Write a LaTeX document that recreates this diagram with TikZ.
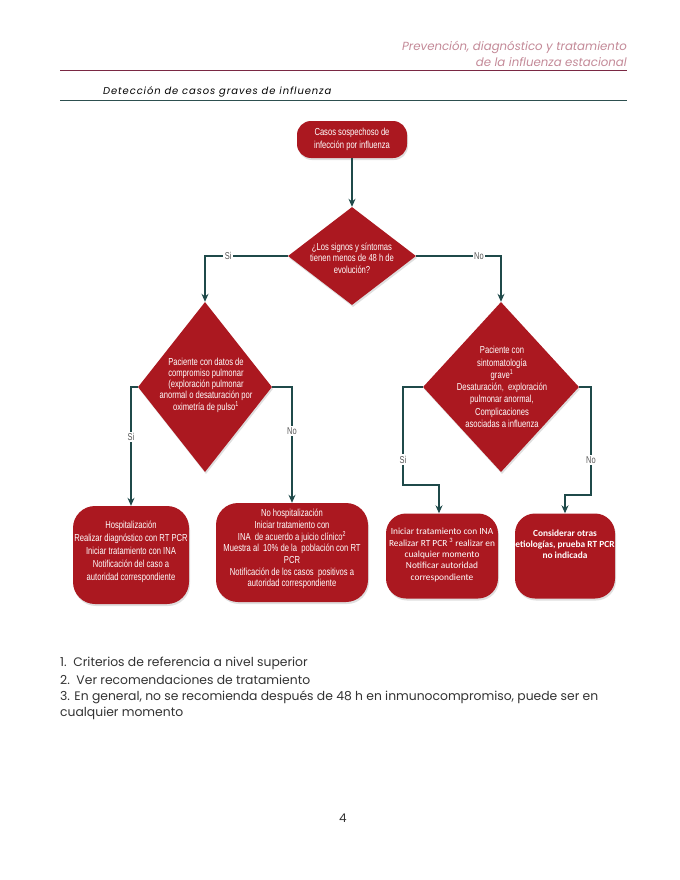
\documentclass[tikz,border=0pt]{standalone}
\usepackage{fontspec}
\setmainfont{Liberation Sans}
\newfontfamily\narrowf[FakeStretch=0.75]{Liberation Sans}
\newfontfamily\calif{Carlito}
\newfontfamily\geof{Poppins}
\usetikzlibrary{shapes.geometric,shadows,arrows.meta,calc}
\definecolor{boxred}{HTML}{AB1820}
\definecolor{arrcol}{HTML}{1F4A4A}
\definecolor{headpink}{HTML}{C48A98}
\definecolor{headline}{HTML}{7A2843}
\definecolor{tealline}{HTML}{2D4F4F}
\definecolor{lbltext}{HTML}{555555}
\definecolor{foottext}{HTML}{333333}
\tikzset{
  redshape/.style={fill=boxred, draw=none, drop shadow={opacity=0.25, shadow xshift=1bp, shadow yshift=-2bp}},
  termbox/.style={redshape, rectangle, rounded corners=22bp, inner sep=0pt},
  startbox/.style={redshape, rectangle, rounded corners=14bp, inner sep=0pt, minimum width=110bp, minimum height=37bp,
     text=white, align=center, font=\narrowf\fontsize{10.2}{12.8}\selectfont},
  decision/.style={redshape, diamond, inner sep=0pt},
  wtext/.style={text=white, align=center, inner sep=0pt, font=\narrowf\fontsize{10.2}{11.7}\selectfont},
  arr/.style={draw=arrcol, line width=1.2bp, -{Stealth[length=8bp,width=7bp]}},
  lbl/.style={fill=white, inner sep=1.5bp, text=lbltext, font=\narrowf\fontsize{10}{11}\selectfont},
  foot/.style={anchor=west, inner sep=0pt, text=foottext, font=\geof\fontsize{12.4}{14}\selectfont},
}
\begin{document}
\begin{tikzpicture}[x=1bp,y=-1bp]
\useasboundingbox[fill=white] (0,0) rectangle (680,880);

% header
\node[anchor=east, inner sep=0pt, text=headpink, font=\geof\itshape\fontsize{11.8}{13}\selectfont] (h1) at (627,47) {Prevención, diagnóstico y tratamiento};
\node[anchor=east, inner sep=0pt, text=headpink, font=\geof\itshape\fontsize{11.8}{13}\selectfont] (h2) at (627,62) {de la influenza estacional};
\draw[headline, line width=1bp] (60,70.5) -- (627,70.5);
\node[anchor=west, inner sep=0pt, font=\geof\itshape\fontsize{10}{11}\selectfont, text=black] (title) at (103,92) {\addfontfeature{LetterSpace=9}Detección de casos graves de influenza};
\draw[tealline, line width=1bp] (60,100.5) -- (627,100.5);

% start
\node[startbox] (start) at (352,139.5) {Casos sospechoso de\\infección por influenza};

% decision 1
\node[decision, minimum width=128bp, minimum height=98bp] (d1) at (352,256) {};
\node[wtext] (d1t) at (352,258) {¿Los signos y síntomas\\tienen menos de 48 h de\\evolución?};

% decision 2
\node[decision, minimum width=134bp, minimum height=170bp] (d2) at (205,387) {};
\node[wtext, font=\narrowf\fontsize{10.2}{11.3}\selectfont] (d2t) at (206,385) {Paciente con datos de\\compromiso pulmonar\\(exploración pulmonar\\anormal o desaturación por\\oximetría de pulso\textsuperscript{1}};

% decision 3
\node[decision, minimum width=156bp, minimum height=170bp] (d3) at (501,387) {};
\node[wtext, font=\narrowf\fontsize{10.2}{12.3}\selectfont] (d3t) at (502,387) {Paciente con\\sintomatología\\grave\textsuperscript{1}\\Desaturación,\ \ exploración\\pulmonar anormal,\\Complicaciones\\asociadas a influenza};

% terminal boxes
\node[termbox, minimum width=116bp, minimum height=98bp] (b1) at (131,555) {};
\node[wtext, font=\narrowf\fontsize{10.2}{13.2}\selectfont] (b1t) at (131,552) {Hospitalización\\Realizar diagnóstico con RT PCR\\Iniciar tratamiento con INA\\Notificación del caso a\\autoridad correspondiente};

\node[termbox, minimum width=152bp, minimum height=99bp] (b2) at (292,552.5) {};
\node[wtext] (b2t) at (292,549) {No hospitalización\\Iniciar tratamiento con\\INA\ \ de acuerdo a juicio clínico\textsuperscript{2}\\Muestra al\ \ 10\% de la\ \ población con RT\\PCR\\Notificación de los casos\ \ positivos a\\autoridad correspondiente};

\node[termbox, minimum width=112bp, minimum height=85bp, rounded corners=20bp] (b3) at (442,556) {};
\node[wtext, font=\calif\fontsize{9.4}{11.5}\selectfont] (b3t) at (442,555) {Iniciar tratamiento con INA\\Realizar RT PCR \textsuperscript{3} realizar en\\cualquier momento\\Notificar autoridad\\correspondiente};

\node[termbox, minimum width=100bp, minimum height=85bp, rounded corners=20bp] (b4) at (565,556) {};
\node[wtext, font=\calif\bfseries\fontsize{9.4}{11.3}\selectfont] (b4t) at (565,544) {Considerar otras\\etiologías, prueba RT PCR\\no indicada};

% connectors
\coordinate (c1) at (403,485);
\coordinate (c2) at (591,495);
\draw[arr] (start.south) -- (d1.north);
\draw[arr] (d1.west) -| node[lbl, pos=0.36] (l1) {Si} (d2.north);
\draw[arr] (d1.east) -| node[lbl, pos=0.37] (l2) {No} (d3.north);
\draw[arr] (d2.west) -| node[lbl, pos=0.71] (l3) {Si} (b1.north);
\draw[arr] (d2.east) -| node[lbl, pos=0.69] (l4) {No} (b2.north);
\draw[arr] (d3.west) -| node[lbl, pos=0.87] (l5) {Si} (c1) -| ($(b3.north)+(-3,0)$);
\draw[arr] (d3.east) -| node[lbl, pos=0.84] (l6) {No} (c2) -| (b4.north);

% footnotes
\node[foot] (f1) at (60,663) {1.\ \ Criterios de referencia a nivel superior};
\node[foot] (f2) at (60,680) {2.\ \ Ver recomendaciones de tratamiento};
\node[foot] (f3) at (60,697) {3. En general, no se recomienda después de 48 h en inmunocompromiso, puede ser en};
\node[foot] (f4) at (60,713) {cualquier momento};

\node[inner sep=0pt, text=foottext, font=\geof\fontsize{12}{13}\selectfont] (pg) at (343,818) {4};
\end{tikzpicture}
\end{document}
